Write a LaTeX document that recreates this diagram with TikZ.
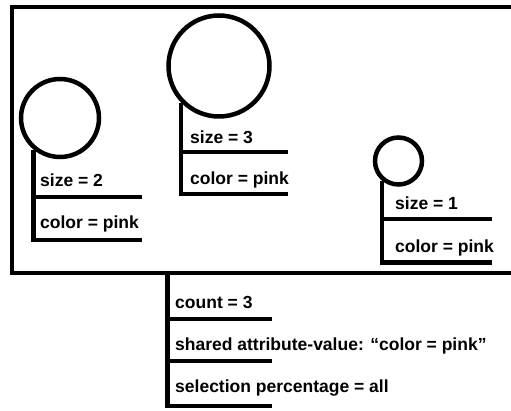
\documentclass[tikz,border=0pt]{standalone}
\usepackage{fontspec}
\setmainfont{Liberation Sans}
\begin{document}
\begin{tikzpicture}[x=1pt,y=-1pt,
  bar/.style={line width=4.5pt,line join=miter,line cap=butt},
  ball/.style={draw,circle,line width=4.5pt,inner sep=0pt},
  lbl/.style={anchor=base west,inner sep=0pt,font=\bfseries\fontsize{17.5}{21}\selectfont}]
\useasboundingbox[fill=white] (0,0) rectangle (511,411);
% frame (open on the right)
\coordinate (ftr) at (515,7);
\coordinate (ftl) at (12,7);
\coordinate (fbl) at (12,273);
\coordinate (fbr) at (515,273);
\draw[bar] (ftr) -- (ftl) -- (fbl) -- (fbr);
% object 1
\node[ball,minimum size=78pt] (c1) at (60,118) {};
\coordinate (e1a) at (142,197);
\coordinate (e1b) at (142,240);
\draw[bar] (c1.230) |- (e1b);
\draw[bar] (c1.230 |- e1a) -- (e1a);
\node[lbl] (t1a) at (40,187) {size = 2};
\node[lbl] (t1b) at (40,229) {color = pink};
% object 2
\node[ball,minimum size=101pt] (c2) at (219,66) {};
\coordinate (e2a) at (288,152);
\coordinate (e2b) at (288,194);
\draw[bar] (c2.224) |- (e2b);
\draw[bar] (c2.224 |- e2a) -- (e2a);
\node[lbl] (t2a) at (190,144) {size = 3};
\node[lbl] (t2b) at (190,185) {color = pink};
% object 3
\node[ball,minimum size=47pt] (c3) at (398.5,161) {};
\coordinate (e3a) at (492,219);
\coordinate (e3b) at (492,262.5);
\draw[bar] (c3.230) |- (e3b);
\draw[bar] (c3.230 |- e3a) -- (e3a);
\node[lbl] (t3a) at (395,210) {size = 1};
\node[lbl] (t3b) at (395,253) {color = pink};
% group summary
\coordinate (gs) at (167.5,273);
\coordinate (g1) at (272,319);
\coordinate (g2) at (272,361);
\coordinate (g3) at (272,406);
\draw[bar] (gs) |- (g3);
\draw[bar] (gs |- g1) -- (g1);
\draw[bar] (gs |- g2) -- (g2);
\node[lbl] (s1) at (175,309) {count = 3};
\node[lbl] (s2) at (175,350) {shared attribute-value: “color = pink”};
\node[lbl] (s3) at (175,392) {selection percentage = all};
\end{tikzpicture}
\end{document}
